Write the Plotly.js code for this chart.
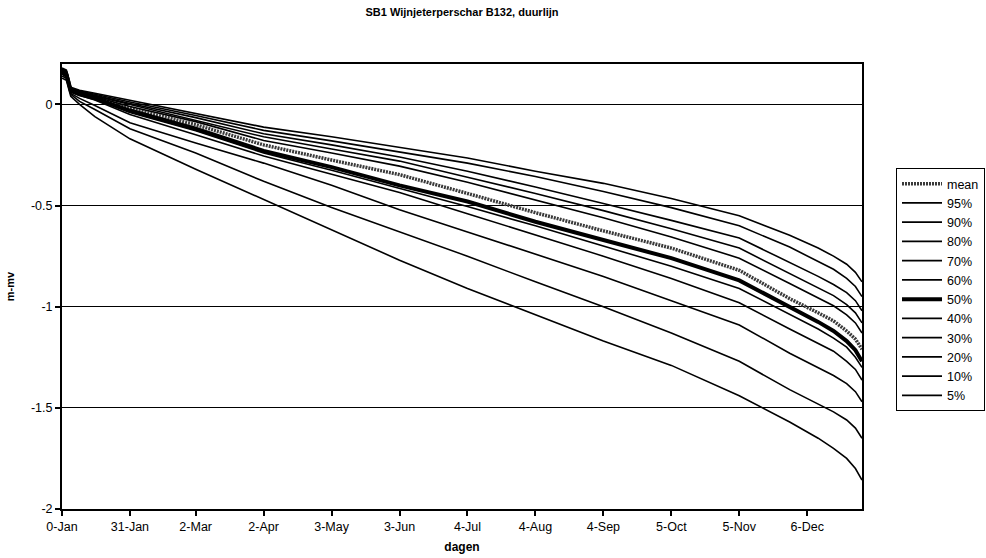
<!DOCTYPE html>
<html>
<head>
<meta charset="utf-8">
<script src="https://cdn.plot.ly/plotly-3.0.1.min.js"></script>
<style>
  html, body { margin: 0; padding: 0; background: #fff; }
  #chart { width: 986px; height: 558px; }
</style>
</head>
<body>
<div id="chart"></div>
<script>
// Duration curves of groundwater level (m below surface) per exceedance class
const days = [0, 2, 4, 8, 15, 31, 61, 92, 123, 154, 185, 216, 247, 278, 309, 332, 345, 352, 358, 362, 365];

const meanVals = [0.16, 0.155, 0.07, 0.054, 0.034, -0.02, -0.10, -0.20, -0.275, -0.347, -0.44, -0.535, -0.625, -0.71, -0.82, -0.96, -1.03, -1.07, -1.12, -1.16, -1.21];
const p95 = [0.18, 0.17, 0.085, 0.07, 0.055, 0.02, -0.045, -0.112, -0.16, -0.211, -0.265, -0.33, -0.39, -0.465, -0.55, -0.647, -0.71, -0.75, -0.79, -0.83, -0.877];
const p90 = [0.175, 0.165, 0.08, 0.066, 0.05, 0.012, -0.055, -0.128, -0.18, -0.235, -0.29, -0.356, -0.43, -0.51, -0.60, -0.705, -0.775, -0.815, -0.86, -0.90, -0.95];
const p80 = [0.17, 0.16, 0.078, 0.063, 0.045, 0.005, -0.065, -0.145, -0.20, -0.26, -0.33, -0.408, -0.49, -0.573, -0.66, -0.78, -0.85, -0.89, -0.93, -0.97, -1.02];
const p70 = [0.17, 0.16, 0.075, 0.06, 0.042, 0.0, -0.075, -0.16, -0.22, -0.28, -0.36, -0.44, -0.525, -0.614, -0.71, -0.835, -0.905, -0.945, -0.99, -1.03, -1.08];
const p60 = [0.165, 0.155, 0.072, 0.057, 0.038, -0.01, -0.085, -0.178, -0.24, -0.305, -0.385, -0.474, -0.56, -0.655, -0.76, -0.885, -0.955, -0.995, -1.04, -1.08, -1.13];
const p50 = [0.16, 0.15, 0.068, 0.05, 0.03, -0.03, -0.12, -0.23, -0.31, -0.40, -0.48, -0.58, -0.67, -0.76, -0.87, -1.0, -1.075, -1.12, -1.17, -1.215, -1.27];
const p40 = [0.155, 0.145, 0.065, 0.048, 0.027, -0.04, -0.13, -0.24, -0.325, -0.415, -0.505, -0.60, -0.70, -0.80, -0.91, -1.04, -1.11, -1.155, -1.20, -1.25, -1.30];
const p30 = [0.15, 0.14, 0.062, 0.045, 0.022, -0.05, -0.15, -0.255, -0.345, -0.435, -0.54, -0.645, -0.75, -0.86, -0.98, -1.11, -1.18, -1.22, -1.27, -1.31, -1.363];
const p20 = [0.15, 0.135, 0.055, 0.03, -0.005, -0.09, -0.19, -0.29, -0.40, -0.52, -0.63, -0.74, -0.85, -0.97, -1.09, -1.23, -1.30, -1.34, -1.38, -1.42, -1.47];
const p10 = [0.14, 0.13, 0.05, 0.015, -0.025, -0.12, -0.24, -0.38, -0.51, -0.63, -0.75, -0.877, -1.0, -1.13, -1.27, -1.41, -1.48, -1.52, -1.56, -1.60, -1.65];
const p5  = [0.13, 0.12, 0.04, 0.0, -0.06, -0.17, -0.32, -0.47, -0.62, -0.77, -0.91, -1.04, -1.17, -1.29, -1.44, -1.57, -1.65, -1.70, -1.75, -1.80, -1.857];

const seriesNames = ['mean', '95%', '90%', '80%', '70%', '60%', '50%', '40%', '30%', '20%', '10%', '5%'];
const seriesVals = [meanVals, p95, p90, p80, p70, p60, p50, p40, p30, p20, p10, p5];

const tickDays = [0, 31, 61, 92, 123, 154, 185, 216, 247, 278, 309, 340];
const tickLabels = ['0-Jan', '31-Jan', '2-Mar', '2-Apr', '3-May', '3-Jun', '4-Jul', '4-Aug', '4-Sep', '5-Oct', '5-Nov', '6-Dec'];
const yTicks = [-2, -1.5, -1, -0.5, 0];
const yLabels = ['-2', '-1.5', '-1', '-0.5', '0'];

const FONT = 'Liberation Sans, Arial, sans-serif';

function lineStyle(name) {
  if (name === 'mean') return { color: '#3a3a3a', width: 3.5, dash: '2px,1px' };
  if (name === '50%') return { color: '#000', width: 4 };
  return { color: '#000', width: 1.6 };
}

const traces = seriesNames.map((name, i) => ({
  type: 'scatter',
  mode: 'lines',
  name: name,
  x: days,
  y: seriesVals[i],
  line: lineStyle(name),
  legendgroup: 'g' + i,
  hoverinfo: 'skip'
}));

const layout = {
  width: 986,
  height: 558,
  paper_bgcolor: '#fff',
  plot_bgcolor: '#fff',
  margin: { l: 62, r: 124, t: 64, b: 49, autoexpand: false },
  font: { family: FONT, color: '#000', size: 12 },
  title: {
    text: '<b>SB1 Wijnjeterperschar B132, duurlijn</b>',
    font: { family: FONT, size: 11, color: '#000' },
    xref: 'paper', x: 0.5, xanchor: 'center',
    yref: 'container', y: 1 - 12 / 558, yanchor: 'middle'
  },
  xaxis: {
    range: [0, 365],
    tickmode: 'array',
    tickvals: tickDays,
    ticktext: tickLabels,
    ticks: 'outside',
    ticklen: 5,
    tickwidth: 2,
    tickcolor: '#000',
    tickfont: { family: FONT, size: 12.5, color: '#000' },
    showline: true,
    linecolor: '#000',
    linewidth: 2,
    mirror: true,
    showgrid: false,
    zeroline: false,
    automargin: false,
    title: { text: '<b>dagen</b>', font: { family: FONT, size: 12, color: '#000' }, standoff: 10 }
  },
  yaxis: {
    range: [-2, 0.2],
    tickmode: 'array',
    tickvals: yTicks,
    ticktext: yLabels,
    ticks: 'outside',
    ticklen: 5,
    tickwidth: 2,
    tickcolor: '#000',
    tickfont: { family: FONT, size: 12.5, color: '#000' },
    showline: true,
    linecolor: '#000',
    linewidth: 2,
    mirror: true,
    showgrid: true,
    gridcolor: '#000',
    gridwidth: 1,
    zeroline: false,
    automargin: false,
    title: { text: '<b>m-mv</b>', font: { family: FONT, size: 11, color: '#000' }, standoff: 14 }
  },
  showlegend: true,
  legend: {
    x: (896 - 62) / 800,
    xanchor: 'left',
    y: (509 - 168) / 445,
    yanchor: 'top',
    bordercolor: '#000',
    borderwidth: 1,
    bgcolor: '#fff',
    font: { family: FONT, size: 12.5, color: '#000' },
    tracegroupgap: 0,
    itemwidth: 40
  }
};

Plotly.newPlot('chart', traces, layout, { displayModeBar: false, staticPlot: true });
</script>
</body>
</html>
